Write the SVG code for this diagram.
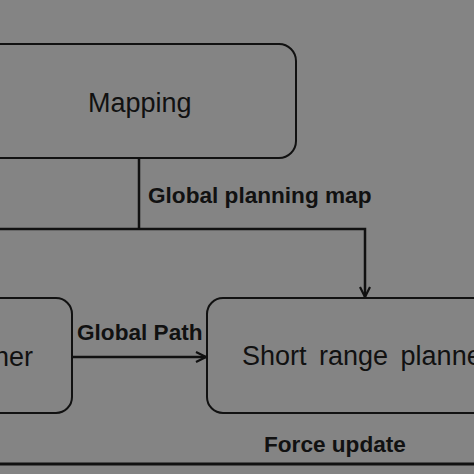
<svg xmlns="http://www.w3.org/2000/svg" width="474" height="474" viewBox="0 0 474 474">
<defs>
<style>
.bg{fill:#848484}
.box{fill:none;stroke:#111;stroke-width:2}
.conn{fill:none;stroke:#111;stroke-width:2.5}
.lbl{font-family:"Liberation Sans",Arial,sans-serif;font-weight:bold;font-size:22.6px;fill:#111}
.title{font-family:"Liberation Sans",Arial,sans-serif;font-size:27px;fill:#111}
</style>
<marker id="arr" viewBox="0 0 12 12" refX="11" refY="6" markerWidth="12" markerHeight="12" markerUnits="userSpaceOnUse" orient="auto">
<path d="M1,1 L11,6 L1,11" fill="none" stroke="#111" stroke-width="2.2"/>
</marker>
</defs>
<rect class="bg" x="0" y="0" width="474" height="474"/>
<g id="mapping">
<rect class="box" x="-40" y="44" width="336" height="114" rx="17" ry="17"/>
<text class="title" x="88" y="112">Mapping</text>
</g>
<g id="global-planner">
<rect class="box" x="-100" y="298" width="172" height="115" rx="16" ry="16"/>
<text class="title" x="33" y="366" text-anchor="end">ner</text>
</g>
<g id="short-range-planner">
<rect class="box" x="207" y="298" width="320" height="115" rx="16" ry="16"/>
<text class="title" x="242" y="365" style="word-spacing:5px">Short range planner</text>
</g>
<g id="connectors">
<path class="conn" d="M139,158 V229"/>
<path class="conn" d="M0,229 H365 V297" marker-end="url(#arr)"/>
<path class="conn" d="M72,357 H206" marker-end="url(#arr)"/>
<path class="conn" d="M0,464 H474" style="stroke-width:3"/>
<text class="lbl" x="148" y="203">Global planning map</text>
<text class="lbl" x="77" y="340">Global Path</text>
<text class="lbl" x="264" y="452">Force update</text>
</g>
</svg>
